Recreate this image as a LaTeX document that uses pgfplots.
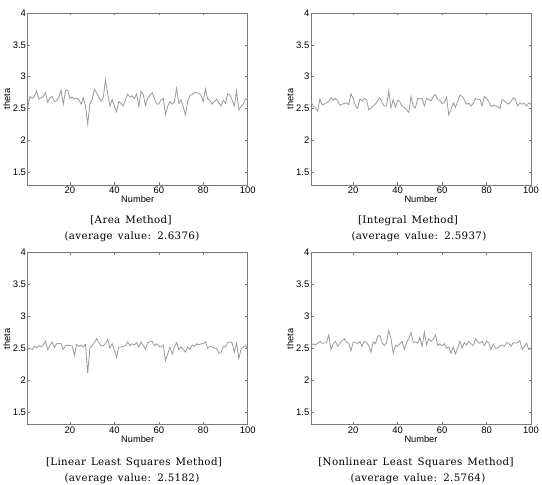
\documentclass[border=0pt]{standalone}
\usepackage{fontspec}
\usepackage{pgfplots}
\usepackage{pgfplotstable}
\pgfplotsset{compat=1.18}
\setsansfont{Liberation Sans}
\newfontfamily\capfont[WordSpace={1.4}, LetterSpace=3.5]{DejaVu Serif}
\definecolor{framegray}{HTML}{7A7A7A}
\definecolor{linegray}{HTML}{9A9A9A}

\pgfplotstableread[row sep=\\]{y\\
2.52\\ 2.69\\ 2.66\\ 2.69\\ 2.78\\ 2.65\\ 2.67\\ 2.69\\ 2.75\\ 2.60\\
2.67\\ 2.69\\ 2.61\\ 2.62\\ 2.68\\ 2.79\\ 2.57\\ 2.78\\ 2.79\\ 2.66\\
2.68\\ 2.65\\ 2.66\\ 2.64\\ 2.57\\ 2.67\\ 2.54\\ 2.26\\ 2.58\\ 2.64\\
2.80\\ 2.75\\ 2.68\\ 2.62\\ 2.67\\ 2.95\\ 2.73\\ 2.54\\ 2.64\\ 2.54\\
2.45\\ 2.61\\ 2.58\\ 2.54\\ 2.64\\ 2.73\\ 2.68\\ 2.70\\ 2.66\\ 2.73\\
2.53\\ 2.77\\ 2.72\\ 2.55\\ 2.66\\ 2.71\\ 2.75\\ 2.66\\ 2.57\\ 2.57\\
2.64\\ 2.66\\ 2.40\\ 2.54\\ 2.61\\ 2.57\\ 2.61\\ 2.82\\ 2.58\\ 2.64\\
2.53\\ 2.40\\ 2.61\\ 2.71\\ 2.72\\ 2.75\\ 2.75\\ 2.74\\ 2.71\\ 2.61\\
2.81\\ 2.65\\ 2.63\\ 2.57\\ 2.61\\ 2.65\\ 2.59\\ 2.54\\ 2.63\\ 2.58\\
2.73\\ 2.71\\ 2.63\\ 2.54\\ 2.78\\ 2.48\\ 2.53\\ 2.57\\ 2.65\\ 2.64\\
}\dataA

\pgfplotstableread[row sep=\\]{y\\
2.61\\ 2.54\\ 2.51\\ 2.46\\ 2.65\\ 2.56\\ 2.57\\ 2.59\\ 2.61\\ 2.67\\
2.63\\ 2.66\\ 2.62\\ 2.55\\ 2.57\\ 2.58\\ 2.59\\ 2.56\\ 2.73\\ 2.66\\
2.54\\ 2.50\\ 2.65\\ 2.62\\ 2.66\\ 2.64\\ 2.48\\ 2.51\\ 2.54\\ 2.57\\
2.63\\ 2.67\\ 2.59\\ 2.54\\ 2.54\\ 2.78\\ 2.51\\ 2.64\\ 2.52\\ 2.63\\
2.61\\ 2.53\\ 2.52\\ 2.48\\ 2.44\\ 2.69\\ 2.54\\ 2.51\\ 2.66\\ 2.65\\
2.66\\ 2.54\\ 2.66\\ 2.64\\ 2.62\\ 2.69\\ 2.72\\ 2.64\\ 2.63\\ 2.58\\
2.59\\ 2.68\\ 2.40\\ 2.48\\ 2.59\\ 2.52\\ 2.61\\ 2.71\\ 2.69\\ 2.64\\
2.57\\ 2.58\\ 2.54\\ 2.58\\ 2.66\\ 2.64\\ 2.65\\ 2.54\\ 2.69\\ 2.66\\
2.61\\ 2.53\\ 2.55\\ 2.54\\ 2.53\\ 2.50\\ 2.64\\ 2.62\\ 2.59\\ 2.57\\
2.61\\ 2.67\\ 2.64\\ 2.54\\ 2.59\\ 2.57\\ 2.58\\ 2.54\\ 2.59\\ 2.57\\
}\dataB

\pgfplotstableread[row sep=\\]{y\\
2.48\\ 2.50\\ 2.48\\ 2.53\\ 2.51\\ 2.54\\ 2.52\\ 2.55\\ 2.61\\ 2.48\\
2.55\\ 2.60\\ 2.51\\ 2.57\\ 2.58\\ 2.57\\ 2.48\\ 2.54\\ 2.55\\ 2.54\\
2.54\\ 2.39\\ 2.56\\ 2.53\\ 2.55\\ 2.52\\ 2.56\\ 2.11\\ 2.50\\ 2.54\\
2.59\\ 2.65\\ 2.59\\ 2.54\\ 2.54\\ 2.57\\ 2.64\\ 2.50\\ 2.57\\ 2.47\\
2.36\\ 2.52\\ 2.52\\ 2.53\\ 2.54\\ 2.60\\ 2.54\\ 2.57\\ 2.55\\ 2.59\\
2.52\\ 2.60\\ 2.54\\ 2.49\\ 2.59\\ 2.60\\ 2.61\\ 2.54\\ 2.57\\ 2.53\\
2.52\\ 2.55\\ 2.31\\ 2.41\\ 2.52\\ 2.41\\ 2.52\\ 2.59\\ 2.48\\ 2.52\\
2.48\\ 2.44\\ 2.52\\ 2.48\\ 2.55\\ 2.53\\ 2.57\\ 2.55\\ 2.57\\ 2.57\\
2.60\\ 2.50\\ 2.53\\ 2.52\\ 2.50\\ 2.50\\ 2.42\\ 2.43\\ 2.53\\ 2.52\\
2.59\\ 2.60\\ 2.58\\ 2.44\\ 2.58\\ 2.34\\ 2.48\\ 2.52\\ 2.54\\ 2.49\\
}\dataC

\pgfplotstableread[row sep=\\]{y\\
2.53\\ 2.57\\ 2.55\\ 2.58\\ 2.61\\ 2.58\\ 2.58\\ 2.59\\ 2.71\\ 2.48\\
2.57\\ 2.61\\ 2.53\\ 2.58\\ 2.62\\ 2.65\\ 2.59\\ 2.58\\ 2.46\\ 2.60\\
2.59\\ 2.57\\ 2.61\\ 2.53\\ 2.61\\ 2.59\\ 2.54\\ 2.44\\ 2.60\\ 2.57\\
2.69\\ 2.70\\ 2.59\\ 2.54\\ 2.59\\ 2.78\\ 2.65\\ 2.42\\ 2.55\\ 2.53\\
2.57\\ 2.61\\ 2.48\\ 2.59\\ 2.65\\ 2.75\\ 2.59\\ 2.60\\ 2.58\\ 2.67\\
2.53\\ 2.75\\ 2.55\\ 2.65\\ 2.61\\ 2.64\\ 2.71\\ 2.54\\ 2.57\\ 2.54\\
2.57\\ 2.50\\ 2.52\\ 2.42\\ 2.52\\ 2.41\\ 2.50\\ 2.61\\ 2.50\\ 2.59\\
2.55\\ 2.61\\ 2.57\\ 2.54\\ 2.65\\ 2.60\\ 2.58\\ 2.61\\ 2.54\\ 2.61\\
2.59\\ 2.48\\ 2.57\\ 2.50\\ 2.50\\ 2.54\\ 2.55\\ 2.53\\ 2.59\\ 2.58\\
2.53\\ 2.59\\ 2.58\\ 2.59\\ 2.62\\ 2.48\\ 2.53\\ 2.58\\ 2.48\\ 2.50\\
}\dataD

\pgfplotsset{
  myax/.style={
    scale only axis, width=220bp, height=172bp,
    xmin=1, xmax=100, ymin=1.3, ymax=4,
    xtick={20,40,60,80,100}, ytick={1.5,2,2.5,3,3.5,4},
    tick align=inside, major tick length=2.5bp,
    axis line style={framegray, line width=0.8bp},
    every tick/.style={framegray, line width=0.6bp},
    /pgf/number format/assume math mode=true,
    tick label style={font=\fontsize{9.5}{10}\selectfont\sffamily, black},
    xticklabel style={inner sep=1.5bp},
    yticklabel style={inner sep=1.5bp},
    label style={font=\fontsize{9.3}{10}\selectfont\sffamily},
    xlabel={Number}, ylabel={theta},
    xlabel style={inner sep=0.5bp},
    ylabel style={inner sep=1bp},
    anchor=south west,
  },
  myline/.style={linegray, line width=0.8bp, no markers},
}

\begin{document}
\begin{tikzpicture}
\useasboundingbox (0,0) rectangle (542bp,485bp);

\begin{axis}[myax, at={(27.7bp,300bp)}]
\addplot[myline] table[x expr=\coordindex+1, y=y] {\dataA};
\end{axis}

\begin{axis}[myax, at={(311bp,300bp)}]
\addplot[myline] table[x expr=\coordindex+1, y=y] {\dataB};
\end{axis}

\begin{axis}[myax, at={(27.7bp,60.3bp)}]
\addplot[myline] table[x expr=\coordindex+1, y=y] {\dataC};
\end{axis}

\begin{axis}[myax, at={(311bp,60.3bp)}]
\addplot[myline] table[x expr=\coordindex+1, y=y] {\dataD};
\end{axis}

\begin{scope}[every node/.style={font=\capfont\fontsize{10.3}{11}\selectfont, inner sep=0pt}]
\node at (131bp,264.3bp) {[Area Method]};
\node at (132bp,248bp) {(average value: 2.6376)};
\node at (408bp,264.3bp) {[Integral Method]};
\node at (419bp,248bp) {(average value: 2.5937)};
\node at (134bp,22.3bp) {[Linear Least Squares Method]};
\node at (132bp,6bp) {(average value: 2.5182)};
\node at (416bp,22.3bp) {[Nonlinear Least Squares Method]};
\node at (418bp,6bp) {(average value: 2.5764)};
\end{scope}
\end{tikzpicture}
\end{document}
